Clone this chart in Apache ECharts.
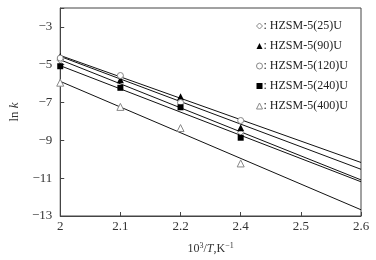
<!DOCTYPE html>
<html><head><meta charset="utf-8">
<script src="https://cdn.jsdelivr.net/npm/echarts@6/dist/echarts.min.js"></script>
<style>html,body{margin:0;padding:0;background:#fff}#c{width:376px;height:260px}</style>
</head><body><div id="c"></div>
<script>
var categories = ['2', '2.1', '2.2', '2.4', '2.5', '2.6'];
var names = ['HZSM-5(25)U', 'HZSM-5(90)U', 'HZSM-5(120)U', 'HZSM-5(240)U', 'HZSM-5(400)U'];
var s25 = [-4.77, -5.6, -7.0, -8.58];
var s90 = [-4.57, -5.8, -6.69, -8.33];
var s120 = [-4.65, -5.57, -7.0, -7.95];
var s240 = [-5.08, -6.22, -7.25, -8.86];
var s400 = [-5.95, -7.23, -8.35, -10.22];
var fit25 = [-4.74, -11.09];
var fit90 = [-4.56, -10.53];
var fit120 = [-4.51, -10.17];
var fit240 = [-5.05, -11.19];
var fit400 = [-5.88, -12.67];
var yTicks = [-13, -11, -9, -7, -5, -3];

var FONT = "'Liberation Serif','Times New Roman',serif";
var pts = [s25, s90, s120, s240, s400];
var fits = [fit25, fit90, fit120, fit240, fit400];
var symbols = ['diamond', 'triangle', 'circle', 'rect', 'triangle'];
var sizes = [6, 7, 6, 6, 7];
var filled = [false, true, false, true, false];

var series = [];
for (var i = 0; i < 5; i++) {
  series.push({
    name: names[i], type: 'line', z: 5,
    lineStyle: {width: 0, opacity: 0},
    symbol: symbols[i], symbolSize: sizes[i], showSymbol: true,
    itemStyle: filled[i] ? {color: '#000', borderWidth: 0} : {color: '#fff', borderColor: '#888', borderWidth: 1},
    data: pts[i].map(function (v, k) { return [categories[k], v]; })
  });
}
for (var j = 0; j < 5; j++) {
  series.push({
    type: 'line', z: 3, symbol: 'none', silent: true,
    lineStyle: {color: '#111', width: 1},
    data: [[categories[0], fits[j][0]], [categories[categories.length - 1], fits[j][1]]]
  });
}

var chart = echarts.init(document.getElementById('c'));
chart.setOption({
  animation: false,
  backgroundColor: '#fff',
  grid: {left: 45, right: 15, top: 8, bottom: 44, show: true, borderColor: '#444', borderWidth: 1},
  legend: {
    data: names.map(function (n, k) {
      return {name: n, icon: symbols[k], itemStyle: filled[k] ? {color: '#000'} : {color: '#fff', borderColor: '#888', borderWidth: 1}};
    }),
    orient: 'vertical', left: 251, top: 14, itemWidth: 6, itemHeight: 6, itemGap: 6,
    formatter: function (n) { return ': ' + n; },
    textStyle: {fontFamily: FONT, fontSize: 12, lineHeight: 14, color: '#222', padding: [0, 0, 0, -4]}
  },
  xAxis: {
    type: 'category', data: categories, boundaryGap: false,
    axisLine: {lineStyle: {color: '#444'}},
    axisTick: {inside: true, length: 4, lineStyle: {color: '#444'}},
    axisLabel: {fontFamily: FONT, fontSize: 13, color: '#333', margin: 4},
    name: '10{sup|3}/{i|T},K{sup|−1}', nameLocation: 'middle', nameGap: 26,
    nameTextStyle: {fontFamily: FONT, fontSize: 12, color: '#333',
      rich: {sup: {fontFamily: FONT, fontSize: 8, color: '#333', padding: [0, 0, 6, 0]},
             i: {fontFamily: FONT, fontSize: 12, fontStyle: 'italic', color: '#333'}}}
  },
  yAxis: {
    type: 'value', min: -13, max: -2, interval: 2,
    axisLine: {show: true, lineStyle: {color: '#444'}},
    axisTick: {show: true, inside: true, length: 4, lineStyle: {color: '#444'}},
    splitLine: {show: false},
    axisLabel: {fontFamily: FONT, fontSize: 13, color: '#333', margin: 8,
      formatter: function (v) { return yTicks.indexOf(v) >= 0 ? String(v).replace('-', '−') : ''; }},
    name: 'ln {i|k}', nameLocation: 'middle', nameGap: 30, nameRotate: 90,
    nameTextStyle: {fontFamily: FONT, fontSize: 13, color: '#333',
      rich: {i: {fontFamily: FONT, fontSize: 13, fontStyle: 'italic', color: '#333'}}}
  },
  series: series
});
</script></body></html>
